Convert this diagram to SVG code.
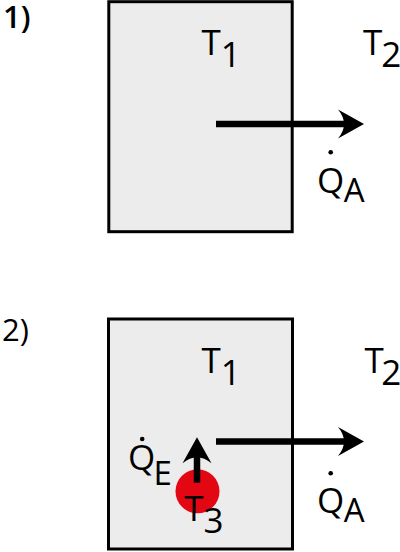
<svg xmlns="http://www.w3.org/2000/svg" xmlns:xlink="http://www.w3.org/1999/xlink" width="400" height="552" viewBox="0 0 400 552">
  <style>
    .box { fill: #ececec; stroke: #000; stroke-width: 3; }
    .lbl { font-family: "Open Sans", "Liberation Sans", sans-serif; fill: #000; font-size: 35px; }
    .sub { font-size: 33px; }
    .num { font-family: "Open Sans", "Liberation Sans", sans-serif; fill: #000; font-size: 31px; }
    .shaft { stroke: #000; stroke-width: 6.5; fill: none; }
    .head { fill: #000; }
    .dot { fill: #000; }
  </style>
  <defs>
    <path id="ah" d="M0,0 L-26,-14.5 Q-14,0 -26,14.5 Z"/>
  </defs>

  <g id="panel1">
    <text class="num" x="3" y="28" font-weight="600">1)</text>
    <g id="box1"><rect class="box" x="108.8" y="1.7" width="183.4" height="230"/></g>
  </g>
  <g id="panel2">
    <text class="num" x="2" y="341">2)</text>
    <g id="box2"><rect class="box" x="108.5" y="319" width="184" height="230"/></g>
    <g id="source"><circle cx="197.5" cy="491.3" r="22" fill="#e30613"/></g>
  </g>

  <g id="connectors">
    <line class="shaft" x1="216" y1="124" x2="348" y2="124"/>
    <use xlink:href="#ah" class="head" transform="translate(364,124)"/>
    <line class="shaft" x1="216" y1="441.5" x2="348" y2="441.5"/>
    <use xlink:href="#ah" class="head" transform="translate(364,441.5)"/>
    <line class="shaft" x1="197" y1="482.7" x2="197" y2="452"/>
    <use xlink:href="#ah" class="head" transform="translate(197,437.3) rotate(-90)"/>
  </g>

  <g id="labels1">
    <text class="lbl"><tspan x="201.5" y="55">T</tspan><tspan x="220.8" y="67.3">1</tspan></text>
    <text class="lbl"><tspan x="363" y="55">T</tspan><tspan x="381.3" y="67">2</tspan></text>
    <circle class="dot" cx="330.7" cy="152.3" r="2.3"/>
    <text class="lbl"><tspan x="317" y="193">Q</tspan><tspan class="sub" x="343.8" y="201.7">A</tspan></text>
  </g>
  <g id="labels2">
    <text class="lbl"><tspan x="201.5" y="372.7">T</tspan><tspan x="220.8" y="385">1</tspan></text>
    <text class="lbl"><tspan x="364.5" y="372.7">T</tspan><tspan x="381.3" y="385">2</tspan></text>
    <circle class="dot" cx="330.7" cy="473.3" r="2.3"/>
    <text class="lbl"><tspan x="317" y="513">Q</tspan><tspan class="sub" x="343.8" y="521.7">A</tspan></text>
    <circle class="dot" cx="142.2" cy="439" r="2.3"/>
    <text class="lbl"><tspan x="128" y="470">Q</tspan><tspan class="sub" x="153.6" y="485">E</tspan></text>
    <text class="lbl"><tspan x="184.3" y="520.7">T</tspan><tspan x="203.5" y="532.7">3</tspan></text>
  </g>
</svg>
